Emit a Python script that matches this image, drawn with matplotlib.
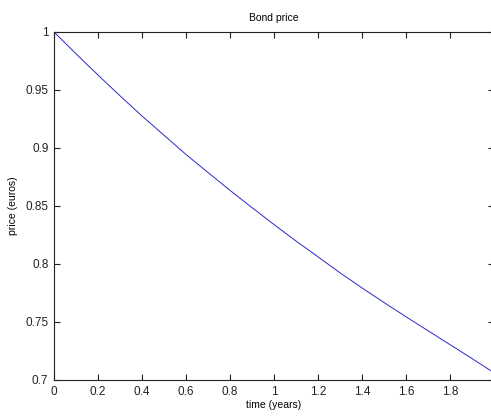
import matplotlib
matplotlib.use("Agg")
import matplotlib.pyplot as plt

plt.rcParams['font.family'] = ['Liberation Sans', 'DejaVu Sans']

# bond price path
time_years = [0.0, 0.1, 0.2, 0.3, 0.4, 0.5, 0.6, 0.7, 0.8, 0.9, 1.0,
              1.1, 1.2, 1.3, 1.4, 1.5, 1.6, 1.7, 1.8, 1.9, 2.0]
price = [1.0, 0.9812, 0.9629, 0.9450, 0.9276, 0.9110, 0.8944, 0.8789, 0.8635,
         0.8486, 0.8340, 0.8198, 0.8062, 0.7924, 0.7794, 0.7668, 0.7545,
         0.7425, 0.7305, 0.7185, 0.7062]

x_ticks = [0, 0.2, 0.4, 0.6, 0.8, 1, 1.2, 1.4, 1.6, 1.8, 2]
x_labels = ['0', '0.2', '0.4', '0.6', '0.8', '1', '1.2', '1.4', '1.6', '1.8', '2']
y_ticks = [0.7, 0.75, 0.8, 0.85, 0.9, 0.95, 1.0]
y_labels = ['0.7', '0.75', '0.8', '0.85', '0.9', '0.95', '1']

fig = plt.figure(figsize=(4.91, 4.2), dpi=100)
# the original screenshot is cropped on the right, so the axes run past the edge
ax = fig.add_axes([54 / 491, 40 / 420, 440 / 491, 348 / 420])

ax.plot(time_years, price, color='#2a2ac8', linewidth=0.7)

ax.set_xlim(0, 2)
ax.set_ylim(0.7, 1.0)
ax.set_xticks(x_ticks)
ax.set_xticklabels(x_labels)
ax.set_yticks(y_ticks)
ax.set_yticklabels(y_labels)
ax.tick_params(direction='in', length=4, width=0.8, labelsize=8.5,
               top=True, right=True, pad=4, colors='#222222')
for sp in ax.spines.values():
    sp.set_linewidth(0.8)
    sp.set_color('#222222')

ax.set_title('Bond price', fontsize=7.5, pad=8)
ax.set_xlabel('time (years)', fontsize=7.5, labelpad=2)
ax.set_ylabel('price (euros)', fontsize=7.5, labelpad=5)

fig.savefig('out.png', dpi=100)
